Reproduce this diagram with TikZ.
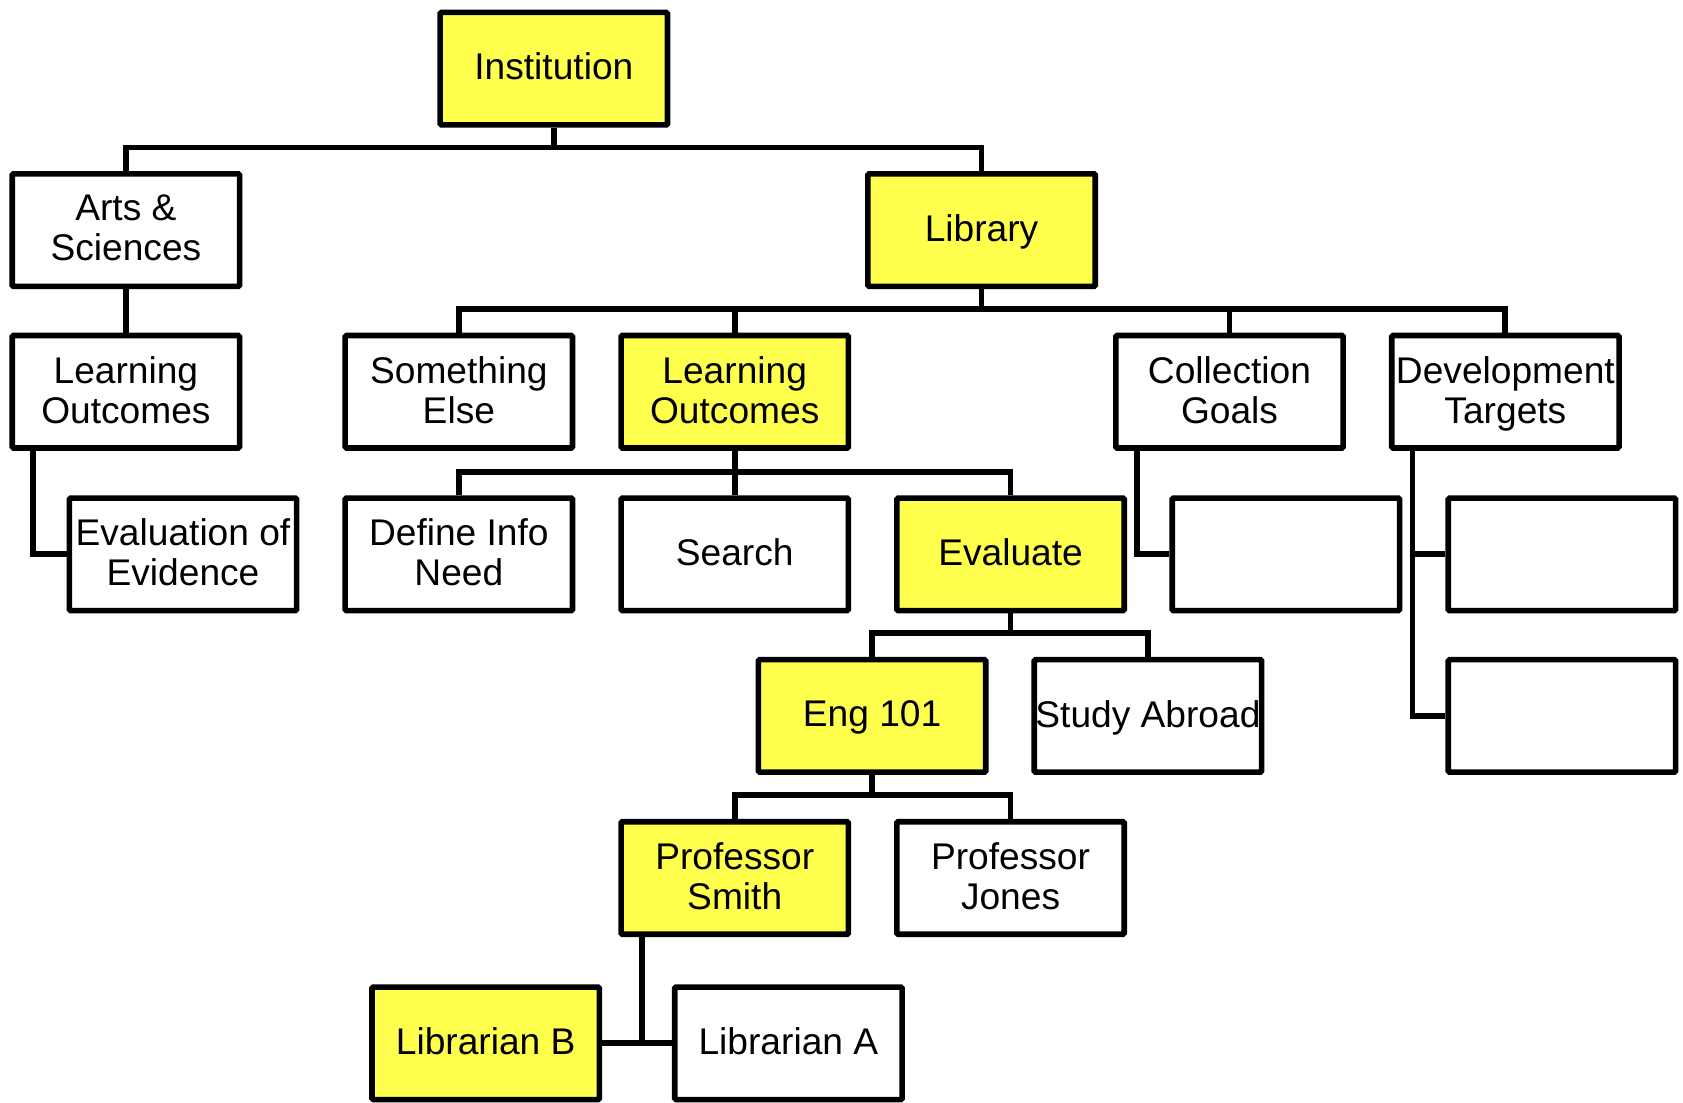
\documentclass[tikz,border=0pt]{standalone}
\usepackage{fontspec}
\setmainfont{Liberation Sans}
\definecolor{hiyellow}{RGB}{255,255,77}
\begin{document}
\begin{tikzpicture}[x=0.5pt,y=-0.5pt,
  box/.style={draw=black,line width=2.6pt,rectangle,rounded corners=0.6pt,minimum width=105.9pt,minimum height=52.4pt,inner sep=0pt,align=center,text depth=2pt,font=\fontsize{17.3}{18.6}\selectfont,fill=white},
  hi/.style={box,fill=hiyellow},
  conn/.style={draw=black,line width=2.7pt,line join=miter}]
\useasboundingbox (0,0) rectangle (1568,1027);
% nodes
\node[hi]  (inst) at (516,64) {Institution};
\node[box] (arts) at (117.3,214.4) {Arts \&\\Sciences};
\node[hi]  (lib)  at (914.5,214.4) {Library};
\node[box] (lo1)  at (117.3,365) {Learning\\Outcomes};
\node[box] (se)   at (427.5,365) {Something\\Else};
\node[hi]  (lo2)  at (684.5,365) {Learning\\Outcomes};
\node[box] (cg)   at (1145.5,365) {Collection\\Goals};
\node[box] (dt)   at (1402.5,365) {Development\\Targets};
\node[box] (eoe)  at (170.5,516.5) {Evaluation of\\Evidence};
\node[box] (din)  at (427.5,516.5) {Define Info\\Need};
\node[box] (srch) at (684.5,516.5) {Search};
\node[hi]  (eval) at (941.5,516.5) {Evaluate};
\node[box] (bk1)  at (1198,516.5) {};
\node[box] (bk2)  at (1455.2,516.5) {};
\node[hi]  (eng)  at (812.5,667) {Eng 101};
\node[box] (sa)   at (1069.5,667) {Study Abroad};
\node[box] (bk3)  at (1455.2,667) {};
\node[hi]  (ps)   at (684.5,818) {Professor\\Smith};
\node[box] (pj)   at (941.5,818) {Professor\\Jones};
\node[hi]  (lb)   at (452.5,972) {Librarian B};
\node[box] (la)   at (734.5,972) {Librarian A};
% connectors
\draw[conn] (arts.north) -- ++(0,-22) coordinate (b1) -| (lib.north);
\draw[conn] (inst.south) -- (inst.south |- b1);
\draw[conn] (arts.south) -- (lo1.north);
\draw[conn] ([xshift=11pt]lo1.south west) |- (eoe.west);
\draw[conn] (se.north) -- ++(0,-22) coordinate (b2) -| (dt.north);
\draw[conn] (lib.south) -- (lib.south |- b2);
\draw[conn] (lo2.north) -- (lo2.north |- b2);
\draw[conn] (cg.north) -- (cg.north |- b2);
\draw[conn] (din.north) -- ++(0,-22) coordinate (b3) -| (eval.north);
\draw[conn] (lo2.south) -- (lo2.south |- b3);
\draw[conn] (srch.north) -- (srch.north |- b3);
\draw[conn] ([xshift=11pt]cg.south west) |- (bk1.west);
\draw[conn] ([xshift=11pt]dt.south west) |- (bk3.west);
\draw[conn] ([xshift=11pt]dt.south west |- bk2.west) -- (bk2.west);
\draw[conn] (eng.north) -- ++(0,-22) coordinate (b4) -| (sa.north);
\draw[conn] (eval.south) -- (eval.south |- b4);
\draw[conn] (ps.north) -- ++(0,-22) coordinate (b5) -| (pj.north);
\draw[conn] (eng.south) -- (eng.south |- b5);
\draw[conn] (lb.east) -- (la.west);
\draw[conn] ([xshift=11pt]ps.south west) -- ([xshift=11pt]ps.south west |- lb.east);
\end{tikzpicture}
\end{document}
